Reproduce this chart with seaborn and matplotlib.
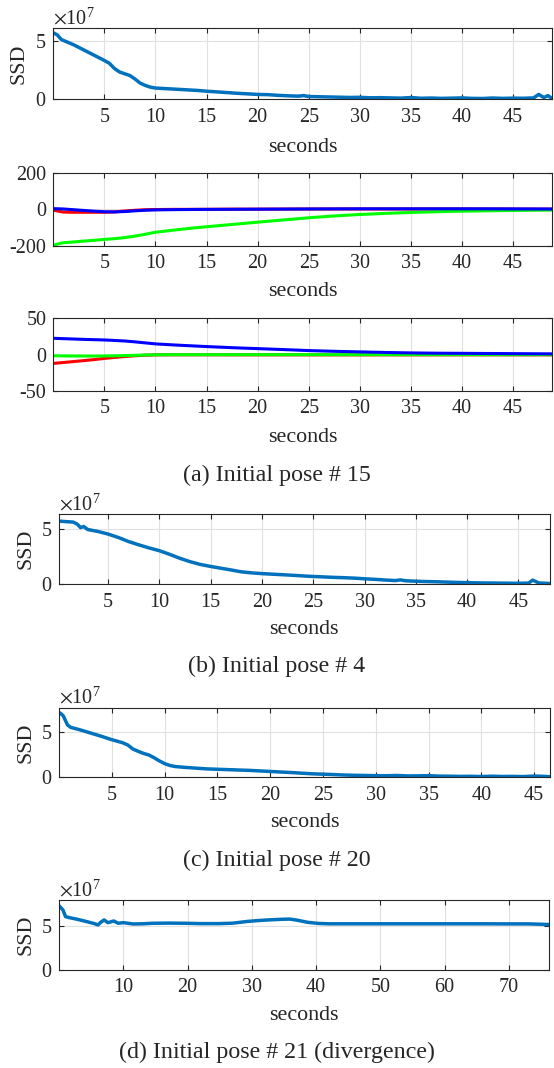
import matplotlib
matplotlib.use("Agg")
import matplotlib.pyplot as plt
import seaborn as sns
from matplotlib.ticker import ScalarFormatter

# ---------------- data ----------------
# (a) Initial pose # 15 : SSD (units of 1e7)
A_T = [0.03, 0.4, 0.8, 1.2, 2, 3, 4, 5, 5.5, 6, 6.5, 7, 7.5, 8, 8.5, 9, 9.5, 10,
       11, 12, 13, 14, 15, 16, 17, 18, 19, 20, 21, 22, 23, 24, 24.5,
       25, 26, 27, 28, 29, 30, 31, 32, 33, 34, 35, 36, 37, 38, 39, 40, 41, 42, 43, 44, 45, 46, 47,
       47.5, 48, 48.4, 48.8]
A_SSD = [5.72, 5.55, 5.15, 5.0, 4.7, 4.25, 3.8, 3.35, 3.1, 2.65, 2.35, 2.2, 2.05, 1.75, 1.4, 1.2, 1.05, 0.97,
         0.92, 0.87, 0.82, 0.77, 0.70, 0.64, 0.58, 0.52, 0.47, 0.42, 0.40, 0.34, 0.30, 0.27, 0.32,
         0.24, 0.22, 0.20, 0.18, 0.16, 0.17, 0.13, 0.14, 0.12, 0.10, 0.15, 0.09, 0.11, 0.08, 0.10, 0.12,
         0.08, 0.07, 0.11, 0.08, 0.10, 0.09, 0.12,
         0.42, 0.15, 0.32, 0.08]

# (a) rotation-like errors
A2_T = [0.03, 1, 2, 3, 4, 5, 6, 7, 8, 9, 10, 12, 14, 16, 18, 20, 22.5, 25, 27.5, 30,
        32.5, 35, 37.5, 40, 42.5, 45, 48.8]
A2_RED = [-5, -15, -16, -16, -16, -16, -14, -9, -5, -2, -1, 0, 0, 0.5, 1, 1, 1.5, 2, 2, 2,
          2, 2, 2, 2, 1.5, 1.5, 1]
A2_GREEN = [-195, -182, -178, -173, -169, -164, -160, -154, -146, -136, -125, -112, -100, -90, -80,
            -70, -58, -46, -36, -28, -22, -17, -13, -10, -8, -6, -4]
A2_BLUE = [4, 2, -2, -6, -10, -13, -14, -12, -8, -5, -3, -1.5, -0.5, 0, 0.5, 1, 1.5, 2, 2.5, 3,
           3, 3, 3, 3, 3, 2.5, 2]

# (a) translation-like errors
A3_T = A2_T
A3_RED = [-12, -10.8, -9.5, -8.2, -6.8, -5.2, -3.8, -2.6, -1.5, -0.8, -0.3, -0.2, -0.2, -0.2, -0.3,
          -0.3, -0.3, -0.3, -0.3, -0.3, -0.3, -0.3, -0.3, -0.3, -0.3, -0.3, -0.3]
A3_GREEN = [-1.5, -1.7, -1.8, -1.9, -1.9, -1.8, -1.6, -1.3, -0.9, -0.5, -0.2, 0, 0, 0, 0,
            0, 0, 0, 0, 0, 0, 0, 0, 0, 0, 0, 0]
A3_BLUE = [22.5, 22, 21.5, 21, 20.6, 20.2, 19.5, 18.8, 17.6, 16.2, 14.8, 13.2, 11.8, 10.5, 9.3,
           8.3, 7.0, 5.6, 4.6, 3.8, 3.0, 2.4, 2.0, 1.8, 1.6, 1.4, 1.1]

# (b) Initial pose # 4
B_T = [0.1, 0.8, 1.6, 2.0, 2.3, 2.6, 3.0,
       4, 5, 6, 7, 8, 9, 10, 11, 12, 13, 14, 15, 16, 17, 18, 19, 20, 21, 22, 23, 24, 25, 26, 27,
       28, 29, 30, 31, 32, 33, 33.5,
       34, 35, 36, 37, 38, 39, 40, 41, 42, 43, 44, 45, 46, 46.4, 47, 48]
B_SSD = [5.75, 5.7, 5.65, 5.45, 5.15, 5.25, 4.98,
         4.8, 4.56, 4.25, 3.88, 3.58, 3.3, 3.05, 2.72, 2.36, 2.05, 1.8, 1.62, 1.46, 1.3, 1.13, 1.04,
         0.97, 0.92, 0.87, 0.82, 0.76, 0.71, 0.67, 0.63, 0.6, 0.56, 0.5, 0.45, 0.39, 0.34, 0.4,
         0.32, 0.28, 0.25, 0.23, 0.2, 0.17, 0.15, 0.13, 0.12, 0.11, 0.1, 0.09, 0.11, 0.38, 0.12, 0.08]

# (c) Initial pose # 20
C_T = [0.1, 0.4, 0.8, 1.1, 2, 3, 4, 5, 6, 6.5, 7, 7.5, 8, 8.5, 9, 9.5, 10, 10.5, 11,
       12, 13, 14, 15, 16, 17, 18, 19, 20, 21, 22, 23, 24, 25, 26, 27, 28, 29, 30, 31, 32, 33,
       34, 35, 36, 37, 38, 39, 40, 41, 42, 43, 44, 45, 46, 46.5]
C_SSD = [7.05, 6.75, 5.75, 5.48, 5.2, 4.85, 4.5, 4.12, 3.8, 3.55, 3.1, 2.85, 2.62, 2.45, 2.15, 1.8,
         1.5, 1.3, 1.18,
         1.08, 1.0, 0.92, 0.88, 0.84, 0.8, 0.76, 0.7, 0.64, 0.58, 0.52, 0.45, 0.38, 0.34, 0.3, 0.25,
         0.22, 0.2, 0.18, 0.17, 0.2, 0.15, 0.16, 0.18, 0.13, 0.12, 0.1, 0.11, 0.08, 0.12, 0.09, 0.1,
         0.08, 0.14, 0.1, 0.06]

# (d) Initial pose # 21 (divergence)
D_T = [0.03, 0.6, 1.0, 1.5, 2.8, 4.3, 5.5, 6.06, 6.4, 7.0, 7.6, 8.5, 9.2, 10, 11.5, 13, 14.6,
       17, 19.8, 22, 24.9, 27, 29.3, 31, 32.5, 34.8, 35.9, 37, 38.7, 40.4, 42, 45, 50, 55, 60,
       65, 70, 73, 76.3]
D_SSD = [7.32, 6.86, 6.1, 6.0, 5.8, 5.53, 5.3, 5.15, 5.41, 5.72, 5.41, 5.6, 5.34, 5.41, 5.26,
         5.28, 5.34, 5.36, 5.34, 5.3, 5.3, 5.35, 5.55, 5.65, 5.72, 5.8, 5.82, 5.7, 5.45, 5.32,
         5.28, 5.28, 5.28, 5.28, 5.28, 5.28, 5.27, 5.27, 5.2]

SSD_SCALE = 1e7
X_TICKS_45 = [5, 10, 15, 20, 25, 30, 35, 40, 45]
X_TICKS_70 = [10, 20, 30, 40, 50, 60, 70]
CAPTIONS = ["(a) Initial pose # 15", "(b) Initial pose # 4",
            "(c) Initial pose # 20", "(d) Initial pose # 21 (divergence)"]
XLABEL = "seconds"
YLABEL = "SSD"

# ---------------- style ----------------
sns.set_theme(style="ticks")
plt.rcParams["font.family"] = ["Liberation Serif", "DejaVu Serif"]
plt.rcParams["mathtext.fontset"] = "stix"
plt.rcParams["axes.unicode_minus"] = False

DARK = "#262626"
GRIDC = "#e0e0e0"
BLUE_M = "#0072BD"
TICK_FS = 14.5
LABEL_FS = 15.8
CAP_FS = 17.3

W, H = 554, 1068
fig = plt.figure(figsize=(W / 100, H / 100), dpi=100)


def add_ax(l, t, r, b):
    ax = fig.add_axes([l / W, 1 - b / H, (r - l) / W, (b - t) / H])
    ax._px = (l, t, r, b)
    return ax


def style_ax(ax, xlim, ylim, xticks, yticks, xlabel_y_px, ylabel_x_px=None):
    l, t, r, b = ax._px
    ax.set_xlim(*xlim)
    ax.set_ylim(*ylim)
    ax.set_xticks(xticks)
    ax.set_yticks(yticks)
    ax.grid(True, color=GRIDC, linewidth=0.8)
    ax.set_axisbelow(True)
    for s in ax.spines.values():
        s.set_color(DARK)
        s.set_linewidth(0.8)
        s.set_visible(True)
    ax.tick_params(direction="in", top=True, right=True, length=3.5, width=0.8,
                   color=DARK, labelcolor=DARK, labelsize=TICK_FS)
    ax.tick_params(axis="x", pad=6)
    ax.tick_params(axis="y", pad=5)
    ax.set_xlabel(XLABEL, fontsize=LABEL_FS, color=DARK)
    ax.xaxis.set_label_coords(0.5, -(xlabel_y_px - b) / (b - t))
    ax.xaxis.label.set_va("center")
    if ylabel_x_px is not None:
        ax.set_ylabel(YLABEL, fontsize=LABEL_FS, color=DARK)
        ax.yaxis.set_label_coords(-(l - ylabel_x_px) / (r - l), 0.5)
        ax.yaxis.label.set_va("center")
    else:
        ax.set_ylabel("")


def ssd_panel(ax, t, v, xlim, ymax, xticks, xlabel_y, ylabel_x):
    y = [val * SSD_SCALE for val in v]
    sns.lineplot(x=t, y=y, ax=ax, color=BLUE_M, linewidth=2.5, sort=False, estimator=None)
    style_ax(ax, xlim, (0, ymax * SSD_SCALE), xticks, [0, 5 * SSD_SCALE], xlabel_y, ylabel_x)
    fmt = ScalarFormatter(useMathText=True)
    fmt.set_powerlimits((0, 0))
    ax.yaxis.set_major_formatter(fmt)
    ax.yaxis.get_offset_text().set_fontsize(TICK_FS)
    ax.yaxis.get_offset_text().set_color(DARK)


def three_panel(ax, t, red, green, blue, ylim, yticks, xlabel_y):
    sns.lineplot(x=t, y=red, ax=ax, color="#ff0000", linewidth=2.2, sort=False, estimator=None)
    sns.lineplot(x=t, y=green, ax=ax, color="#00ff00", linewidth=2.2, sort=False, estimator=None)
    sns.lineplot(x=t, y=blue, ax=ax, color="#0000ff", linewidth=2.2, sort=False, estimator=None)
    style_ax(ax, (0.01, 48.8), ylim, X_TICKS_45, yticks, xlabel_y)


# panel (a) - three stacked axes
ax1 = add_ax(53.3, 28.3, 552, 99.3)
ssd_panel(ax1, A_T, A_SSD, (0.01, 48.8), 6.12, X_TICKS_45, 147, 19.2)

ax2 = add_ax(53.3, 172.7, 552, 246)
three_panel(ax2, A2_T, A2_RED, A2_GREEN, A2_BLUE, (-200, 200), [-200, 0, 200], 292)

ax3 = add_ax(53.3, 318.3, 552, 391)
three_panel(ax3, A3_T, A3_RED, A3_GREEN, A3_BLUE, (-50, 50), [-50, 0, 50], 437.7)

# panel (b)
axb = add_ax(59, 514.3, 549.7, 584.3)
ssd_panel(axb, B_T, B_SSD, (0.2, 48.06), 6.36, X_TICKS_45, 629, 25.8)

# panel (c)
axc = add_ax(59, 707.7, 550, 777.3)
ssd_panel(axc, C_T, C_SSD, (0.0, 46.5), 7.63, X_TICKS_45, 822.7, 25.8)

# panel (d)
axd = add_ax(59.3, 900, 549.3, 970)
ssd_panel(axd, D_T, D_SSD, (0.03, 76.3), 8.0, X_TICKS_70, 1015.7, 25.8)

for cap, ypx in zip(CAPTIONS, [475, 666.5, 860, 1052.7]):
    fig.text(277 / W, 1 - ypx / H, cap, ha="center", va="center", fontsize=CAP_FS, color=DARK)

fig.savefig("out.png", dpi=100)
